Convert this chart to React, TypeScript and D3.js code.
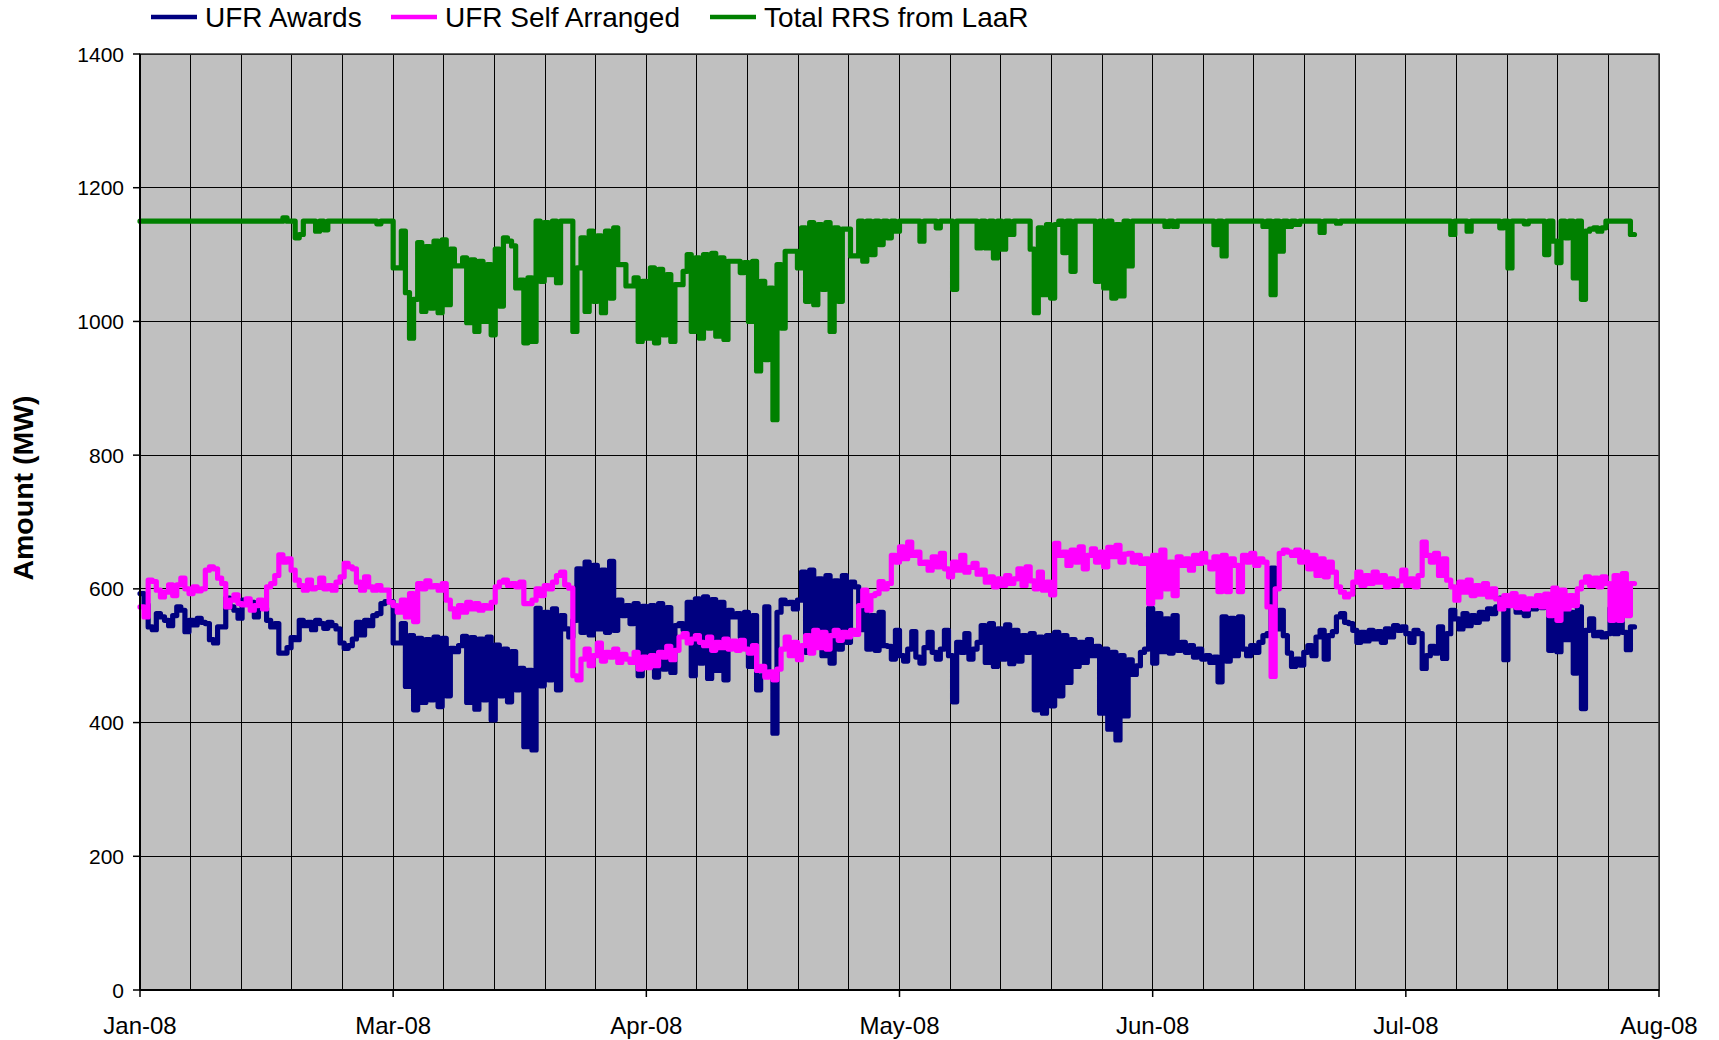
import React, { useEffect } from 'react';
import * as d3 from 'd3';

// x axis: days since the axis start, one value every half day
const xLabels = ['Jan-08', 'Mar-08', 'Apr-08', 'May-08', 'Jun-08', 'Jul-08', 'Aug-08'];
const majorDays = 31;
const minorDays = 6.2;
const totalDays = 186;
const yTicks = [0, 200, 400, 600, 800, 1000, 1200, 1400];

const ufrAwards = [
  593, 576, 543, 539, 563, 558, 553, 545, 560, 573,
  568, 536, 553, 546, 556, 550, 548, 524, 519, 543,
  543, 586, 573, 568, 556, 583, 578, 580, 558, 571,
  571, 553, 543, 548, 504, 504, 512, 527, 524, 553,
  545, 550, 539, 553, 548, 541, 550, 545, 540, 519,
  511, 515, 525, 550, 531, 553, 545, 560, 563, 578,
  581, 581, 519, 519, 548, 454, 530, 419, 526, 430,
  524, 434, 528, 424, 526, 440, 511, 506, 515, 529,
  430, 527, 420, 525, 434, 528, 404, 516, 440, 510,
  431, 506, 449, 481, 364, 478, 359, 571, 455, 565,
  464, 570, 449, 560, 540, 528, 553, 630, 535, 640,
  531, 635, 540, 628, 535, 641, 538, 583, 560, 575,
  548, 578, 470, 574, 494, 575, 468, 578, 480, 572,
  475, 545, 548, 539, 580, 470, 585, 489, 588, 466,
  584, 478, 580, 464, 568, 558, 563, 528, 565, 484,
  560, 449, 470, 573, 470, 384, 565, 583, 578, 580,
  570, 583, 625, 505, 628, 520, 615, 500, 620, 489,
  612, 510, 620, 520, 610, 603, 539, 568, 510, 560,
  508, 565, 515, 514, 495, 538, 500, 492, 510, 536,
  498, 489, 512, 535, 505, 495, 510, 538, 500, 431,
  520, 505, 533, 495, 510, 520, 545, 490, 548, 484,
  540, 495, 546, 488, 538, 492, 530, 505, 533, 419,
  528, 414, 530, 425, 535, 440, 530, 460, 524, 484,
  520, 490, 524, 500, 514, 414, 510, 390, 505, 374,
  500, 410, 494, 472, 485, 505, 510, 571, 489, 563,
  506, 555, 504, 560, 508, 520, 505, 515, 498, 510,
  495, 500, 490, 498, 461, 558, 492, 556, 500, 558,
  510, 500, 515, 505, 520, 530, 533, 631, 540, 568,
  530, 504, 484, 495, 486, 505, 515, 500, 528, 538,
  495, 530, 536, 558, 563, 550, 548, 538, 520, 535,
  522, 538, 525, 536, 520, 540, 528, 545, 538, 543,
  533, 520, 538, 533, 481, 500, 514, 504, 543, 496,
  533, 568, 555, 540, 563, 545, 560, 550, 565, 555,
  570, 563, 573, 586, 494, 580, 578, 565, 575, 560,
  578, 570, 575, 572, 573, 508, 570, 506, 573, 524,
  565, 474, 573, 421, 538, 555, 530, 535, 528, 533,
  571, 533, 569, 535, 509, 543,
];

const ufrSelfArranged = [
  573, 558, 613, 611, 598, 588, 595, 606, 590, 606,
  616, 600, 593, 603, 597, 600, 628, 633, 630, 616,
  608, 573, 583, 591, 578, 576, 585, 568, 575, 583,
  570, 603, 608, 620, 651, 640, 645, 628, 613, 605,
  598, 613, 600, 602, 616, 600, 605, 598, 610, 618,
  638, 633, 630, 610, 598, 618, 603, 598, 605, 598,
  598, 580, 575, 565, 583, 558, 593, 551, 608, 600,
  612, 603, 605, 598, 608, 583, 570, 558, 575, 565,
  580, 570, 578, 568, 575, 571, 580, 603, 610, 613,
  605, 608, 603, 610, 578, 578, 583, 600, 590, 605,
  600, 610, 620, 625, 606, 601, 470, 464, 495, 510,
  485, 500, 519, 492, 505, 498, 510, 490, 502, 495,
  490, 505, 480, 498, 482, 500, 485, 505, 498, 514,
  494, 508, 528, 533, 519, 525, 530, 520, 515, 528,
  508, 520, 512, 525, 510, 522, 508, 523, 510, 504,
  515, 478, 484, 468, 476, 464, 480, 510, 528, 500,
  520, 494, 515, 530, 504, 538, 512, 535, 510, 530,
  538, 523, 535, 528, 538, 532, 575, 598, 568, 590,
  593, 611, 600, 608, 650, 640, 663, 645, 670, 650,
  655, 638, 640, 628, 648, 633, 653, 630, 618, 640,
  628, 650, 625, 632, 638, 622, 628, 610, 618, 603,
  615, 605, 620, 608, 615, 630, 605, 633, 612, 600,
  625, 598, 610, 591, 668, 650, 655, 635, 658, 640,
  663, 630, 650, 660, 640, 655, 633, 662, 648, 665,
  640, 652, 653, 640, 650, 638, 645, 578, 650, 588,
  658, 600, 640, 590, 648, 635, 645, 628, 650, 638,
  653, 640, 630, 648, 596, 650, 596, 645, 635, 596,
  650, 640, 653, 635, 645, 640, 573, 469, 600, 653,
  658, 655, 650, 658, 640, 655, 630, 650, 620, 645,
  618, 640, 625, 603, 595, 588, 592, 610, 625, 605,
  620, 608, 625, 610, 620, 603, 615, 605, 612, 628,
  605, 615, 603, 620, 670, 650, 640, 653, 620, 645,
  613, 603, 583, 610, 595, 613, 590, 605, 592, 608,
  588, 600, 585, 570, 590, 575, 593, 572, 588, 570,
  585, 575, 590, 573, 592, 560, 601, 553, 598, 570,
  590, 575, 600, 610, 618, 605, 616, 603, 618, 608,
  553, 620, 553, 623, 560, 608,
];

const totalRRS = [
  1150, 1150, 1150, 1150, 1150, 1150, 1150, 1150, 1150, 1150,
  1150, 1150, 1150, 1150, 1150, 1150, 1150, 1150, 1150, 1150,
  1150, 1150, 1150, 1150, 1150, 1150, 1150, 1150, 1150, 1150,
  1150, 1150, 1150, 1150, 1150, 1155, 1150, 1150, 1125, 1130,
  1150, 1150, 1150, 1135, 1150, 1137, 1150, 1150, 1150, 1150,
  1150, 1150, 1150, 1150, 1150, 1150, 1150, 1150, 1146, 1150,
  1150, 1150, 1080, 1080, 1135, 1043, 975, 1033, 1118, 1015,
  1112, 1020, 1120, 1013, 1122, 1025, 1108, 1083, 1083, 1095,
  998, 1092, 985, 1090, 1000, 1085, 980, 1108, 1023, 1125,
  1120, 1113, 1050, 1062, 968, 1065, 970, 1150, 1060, 1148,
  1070, 1150, 1058, 1150, 1150, 1150, 985, 1080, 1125, 1015,
  1135, 1030, 1128, 1013, 1135, 1035, 1140, 1085, 1085, 1053,
  1053, 1065, 970, 1060, 975, 1080, 968, 1078, 980, 1070,
  970, 1055, 1055, 1075, 1100, 985, 1095, 975, 1100, 990,
  1102, 978, 1095, 973, 1090, 1090, 1090, 1073, 1088, 1000,
  1090, 926, 1060, 943, 1050, 853, 1085, 990, 1105, 1105,
  1105, 1080, 1140, 1030, 1148, 1025, 1145, 1048, 1148, 985,
  1140, 1030, 1138, 1138, 1098, 1098, 1150, 1090, 1150, 1100,
  1150, 1115, 1150, 1125, 1150, 1135, 1150, 1150, 1150, 1150,
  1150, 1120, 1150, 1150, 1150, 1140, 1150, 1150, 1150, 1048,
  1150, 1150, 1150, 1150, 1150, 1110, 1150, 1110, 1150, 1095,
  1150, 1108, 1150, 1130, 1150, 1150, 1150, 1150, 1108, 1013,
  1140, 1040, 1145, 1035, 1145, 1150, 1103, 1150, 1075, 1150,
  1150, 1150, 1150, 1150, 1060, 1150, 1050, 1150, 1035, 1145,
  1038, 1150, 1083, 1150, 1150, 1150, 1150, 1150, 1150, 1150,
  1150, 1142, 1150, 1142, 1150, 1150, 1150, 1150, 1150, 1150,
  1150, 1150, 1150, 1115, 1150, 1098, 1150, 1150, 1150, 1150,
  1150, 1150, 1150, 1150, 1150, 1142, 1150, 1040, 1150, 1105,
  1150, 1142, 1150, 1145, 1150, 1150, 1150, 1150, 1150, 1133,
  1150, 1150, 1150, 1147, 1150, 1150, 1150, 1150, 1150, 1150,
  1150, 1150, 1150, 1150, 1150, 1150, 1150, 1150, 1150, 1150,
  1150, 1150, 1150, 1150, 1150, 1150, 1150, 1150, 1150, 1150,
  1150, 1130, 1150, 1150, 1150, 1135, 1150, 1150, 1150, 1150,
  1150, 1150, 1150, 1140, 1150, 1080, 1150, 1150, 1150, 1146,
  1150, 1150, 1150, 1150, 1100, 1150, 1120, 1088, 1150, 1125,
  1150, 1065, 1150, 1033, 1135, 1138, 1140, 1135, 1140, 1150,
  1150, 1150, 1150, 1150, 1150, 1130,
];

const series = [
  { name: 'UFR Awards', color: '#000080', values: ufrAwards },
  { name: 'UFR Self Arranged', color: '#ff00ff', values: ufrSelfArranged },
  { name: 'Total RRS from LaaR', color: '#008000', values: totalRRS },
];

const W = 1719, H = 1040;
const plot = { left: 140, right: 1659, top: 54, bottom: 990 };
const font = '"Liberation Sans", Arial, sans-serif';

export default function App() {
  useEffect(() => {
    document.body.style.margin = '0';
  }, []);

  const x = d3.scaleLinear().domain([0, totalDays]).range([plot.left, plot.right]);
  const y = d3.scaleLinear().domain([0, 1400]).range([plot.bottom, plot.top]);

  const line = d3.line<number>()
    .x((_, i) => x(i * 0.5))
    .y(d => y(d))
    .curve(d3.curveStepAfter);

  const minor = d3.range(0, totalDays + 0.01, minorDays);
  const legendX = [151, 391, 710];

  return (
    <svg width={W} height={H} style={{ display: 'block', background: '#fff' }} fontFamily={font}>
      <rect x={plot.left} y={plot.top} width={plot.right - plot.left} height={plot.bottom - plot.top} fill="#c0c0c0" />
      <g shapeRendering="crispEdges" stroke="#000" strokeWidth={1}>
        {minor.map((d, i) => (
          <line key={'v' + i} x1={x(d)} x2={x(d)} y1={plot.top} y2={plot.bottom} />
        ))}
        {yTicks.map(t => (
          <line key={'h' + t} x1={plot.left} x2={plot.right} y1={y(t)} y2={y(t)} />
        ))}
      </g>

      {series.map(s => (
        <path key={s.name} d={line([...s.values, s.values[s.values.length - 1]]) || ''}
          fill="none" stroke={s.color} strokeWidth={5.2} strokeLinejoin="round" strokeLinecap="round" />
      ))}

      <rect x={plot.left} y={plot.top} width={plot.right - plot.left} height={plot.bottom - plot.top}
        fill="none" stroke="#333" strokeWidth={1.5} />
      <g stroke="#000" strokeWidth={2}>
        <line x1={plot.left} x2={plot.left} y1={plot.top} y2={plot.bottom} />
        <line x1={plot.left} x2={plot.right} y1={plot.bottom} y2={plot.bottom} />
        {yTicks.map(t => (
          <line key={'yt' + t} x1={plot.left - 7} x2={plot.left} y1={y(t)} y2={y(t)} strokeWidth={1.5} />
        ))}
        {xLabels.map((_, i) => (
          <line key={'xt' + i} x1={x(i * majorDays)} x2={x(i * majorDays)} y1={plot.bottom} y2={plot.bottom + 7} strokeWidth={1.5} />
        ))}
      </g>

      {yTicks.map(t => (
        <text key={'yl' + t} x={plot.left - 16} y={y(t)} dy="0.36em" textAnchor="end" fontSize={21}>{t}</text>
      ))}
      {xLabels.map((l, i) => (
        <text key={'xl' + i} x={x(i * majorDays)} y={1034} textAnchor="middle" fontSize={24}>{l}</text>
      ))}

      <text transform="translate(33,488) rotate(-90)" textAnchor="middle" fontSize={28.5} fontWeight="bold">Amount (MW)</text>

      {series.map((s, i) => (
        <g key={'lg' + s.name} transform={`translate(${legendX[i]},17)`}>
          <line x1={0} x2={46} y1={0} y2={0} stroke={s.color} strokeWidth={4.5} />
          <text x={54} y={0} dy="0.36em" fontSize={28}>{s.name}</text>
        </g>
      ))}
    </svg>
  );
}
